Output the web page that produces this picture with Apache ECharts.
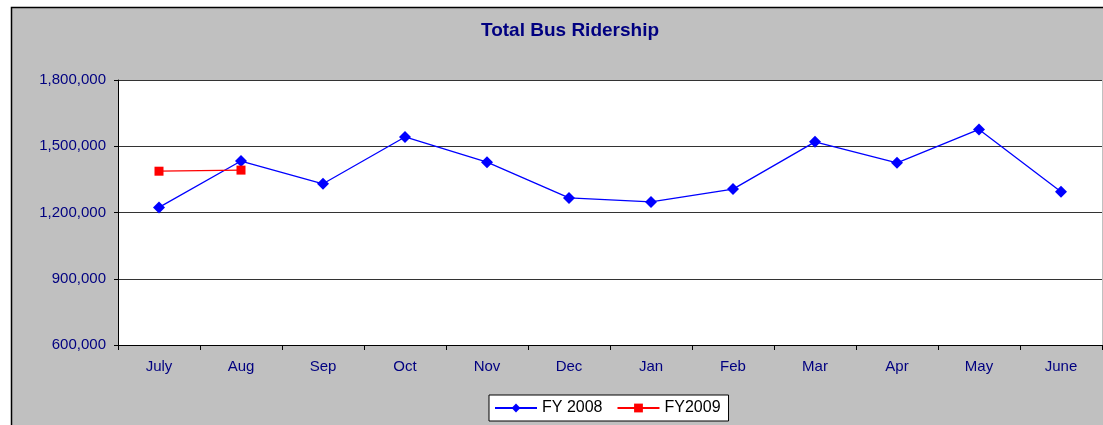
<!DOCTYPE html>
<html>
<head>
<meta charset="utf-8">
<script src="https://cdn.jsdelivr.net/npm/echarts@6/dist/echarts.min.js"></script>
<style>
  html, body { margin: 0; padding: 0; background: #fff; }
  #busChart { width: 1103px; height: 425px; }
</style>
</head>
<body>
<div id="busChart"></div>
<script>
// 月份
var months = ['July', 'Aug', 'Sep', 'Oct', 'Nov', 'Dec', 'Jan', 'Feb', 'Mar', 'Apr', 'May', 'June'];
// 数据
var fy2008 = [1223000, 1433000, 1330000, 1542000, 1428000, 1266000, 1248000, 1306000, 1520000, 1425000, 1576000, 1294000];
var fy2009 = [1387000, 1392000];

var busChart = echarts.init(document.getElementById('busChart'));
var navy = '#000080';
var option = {
    backgroundColor: '#fff',
    animation: false,
    textStyle: { fontFamily: 'Liberation Sans, Arial, sans-serif' },
    graphic: [{
        type: 'rect',
        z: -10,
        shape: { x: 11.5, y: 7.5, width: 1100, height: 430 },
        style: { fill: '#c0c0c0', stroke: '#000', lineWidth: 1.5 }
    }],
    title: {
        text: 'Total Bus Ridership',
        left: 565,
        textAlign: 'center',
        top: 16,
        textStyle: { color: navy, fontSize: 19, fontWeight: 'bold' }
    },
    legend: {
        left: 489,
        top: 395,
        itemWidth: 42,
        itemHeight: 11,
        itemGap: 14,
        padding: [5, 8, 5, 5],
        backgroundColor: '#fff',
        borderColor: '#000',
        borderWidth: 1,
        borderRadius: 0,
        textStyle: { color: '#000', fontSize: 16 },
        data: ['FY 2008', 'FY2009']
    },
    grid: {
        left: 118,
        right: 1,
        top: 80,
        bottom: 80,
        show: true,
        backgroundColor: '#fff',
        borderWidth: 0
    },
    xAxis: {
        type: 'category',
        data: months,
        boundaryGap: true,
        axisLine: { lineStyle: { color: '#000', width: 1 } },
        axisTick: { show: true, length: 5, lineStyle: { color: '#000' } },
        axisLabel: { color: navy, fontSize: 15, margin: 14 }
    },
    yAxis: {
        type: 'value',
        min: 600000,
        max: 1800000,
        interval: 300000,
        axisLine: { show: true, lineStyle: { color: '#000', width: 1 } },
        axisTick: { show: true, length: 4, lineStyle: { color: '#000' } },
        axisLabel: {
            color: navy,
            fontSize: 15,
            margin: 12,
            formatter: function (v) { return v.toLocaleString('en-US'); }
        },
        splitLine: { lineStyle: { color: '#333', width: 1 } }
    },
    series: [{
        name: 'FY 2008',
        type: 'line',
        data: fy2008,
        symbol: 'diamond',
        symbolSize: 12,
        itemStyle: { color: '#0000ff' },
        lineStyle: { color: '#0000ff', width: 1.3 }
    }, {
        name: 'FY2009',
        type: 'line',
        data: fy2009,
        symbol: 'rect',
        symbolSize: 9,
        itemStyle: { color: '#ff0000' },
        lineStyle: { color: '#ff0000', width: 1.3 }
    }]
};
busChart.setOption(option);
</script>
</body>
</html>
